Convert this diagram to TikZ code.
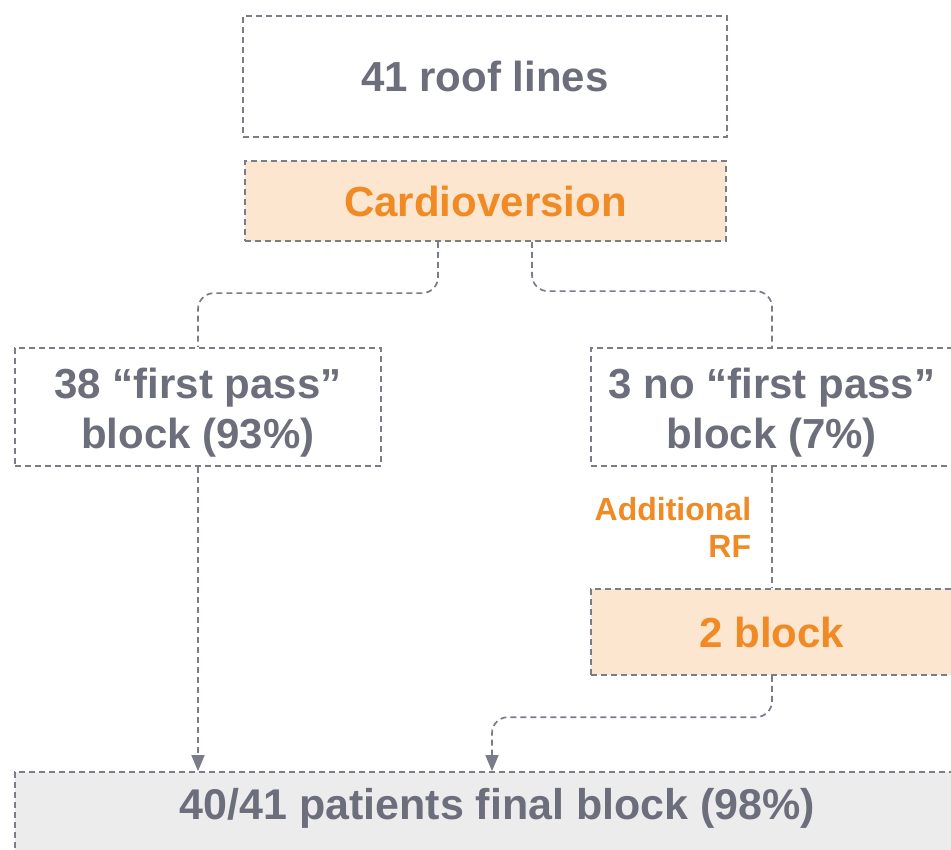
\documentclass[tikz,border=0pt]{standalone}
\usepackage{fontspec}
\setmainfont{Liberation Sans}
\usetikzlibrary{arrows.meta}
\definecolor{txtgray}{HTML}{6D6E7C}
\definecolor{lngray}{HTML}{7B7C89}
\definecolor{orng}{HTML}{F08A24}
\definecolor{orfill}{HTML}{FDE6CF}
\definecolor{botfill}{HTML}{ECECEC}
\tikzset{
  box/.style={draw=lngray, line width=1.7pt, dash pattern=on 6pt off 4pt, inner sep=0pt,
    font=\fontsize{42}{50}\selectfont\bfseries, text=txtgray, align=center},
  obox/.style={box, fill=orfill, text=orng},
  txt/.style={font=\fontsize{42}{50}\selectfont\bfseries, text=txtgray, align=center, inner sep=0pt},
  conn/.style={draw=lngray, line width=1.7pt, dash pattern=on 6pt off 4pt, rounded corners=16pt},
  arr/.style={-{Triangle[length=16pt,width=13pt]}},
  lab/.style={font=\fontsize{32}{37}\selectfont\bfseries, text=orng, align=right}
}
\begin{document}
\begin{tikzpicture}[x=1pt,y=-1pt]
\useasboundingbox (0,0) rectangle (951,850);
\clip (0,0) rectangle (951,850);
\fill[white] (0,0) rectangle (951,850);
\node[box, minimum width=484pt, minimum height=121pt] (top) at (485,76.5) {41 roof lines};
\node[obox, minimum width=481pt, minimum height=80pt] (cardio) at (485.5,201) {Cardioversion};
\node[box, minimum width=366pt, minimum height=118pt] (left) at (198,407) {};
\node[txt] (lefttext) at (198,413) {38 “first pass”\\block (93\%)};
\node[box, minimum width=362pt, minimum height=118pt] (right) at (772,407) {};
\node[txt] (righttext) at (772,413) {3 no “first pass”\\block (7\%)};
\node[obox, minimum width=362pt, minimum height=86pt] (two) at (772,632) {2 block};
\node[box, fill=botfill, minimum width=965pt, minimum height=100pt] (bot) at (497.5,822) {};
\node[font=\fontsize{43}{50}\selectfont\bfseries, text=txtgray, inner sep=0pt] (bottext) at (497.5,808) {40/41 patients final block (98\%)};
\draw[conn] ([xshift=-47.5pt]cardio.south) |- ([yshift=54pt]left.north) -- (left.north);
\draw[conn] ([xshift=46.5pt]cardio.south) |- ([yshift=56pt]right.north) -- (right.north);
\draw[conn] (right.south) -- node[lab, left, inner sep=0pt, xshift=-20pt] (addrf) {Additional\\RF} (two.north);
\draw[conn, arr] (left.south) -- (left.south |- bot.north);
\draw[conn, arr] (two.south) |- ([xshift=-5.5pt, yshift=54pt]bot.north) -- ([xshift=-5.5pt]bot.north);
\end{tikzpicture}
\end{document}
